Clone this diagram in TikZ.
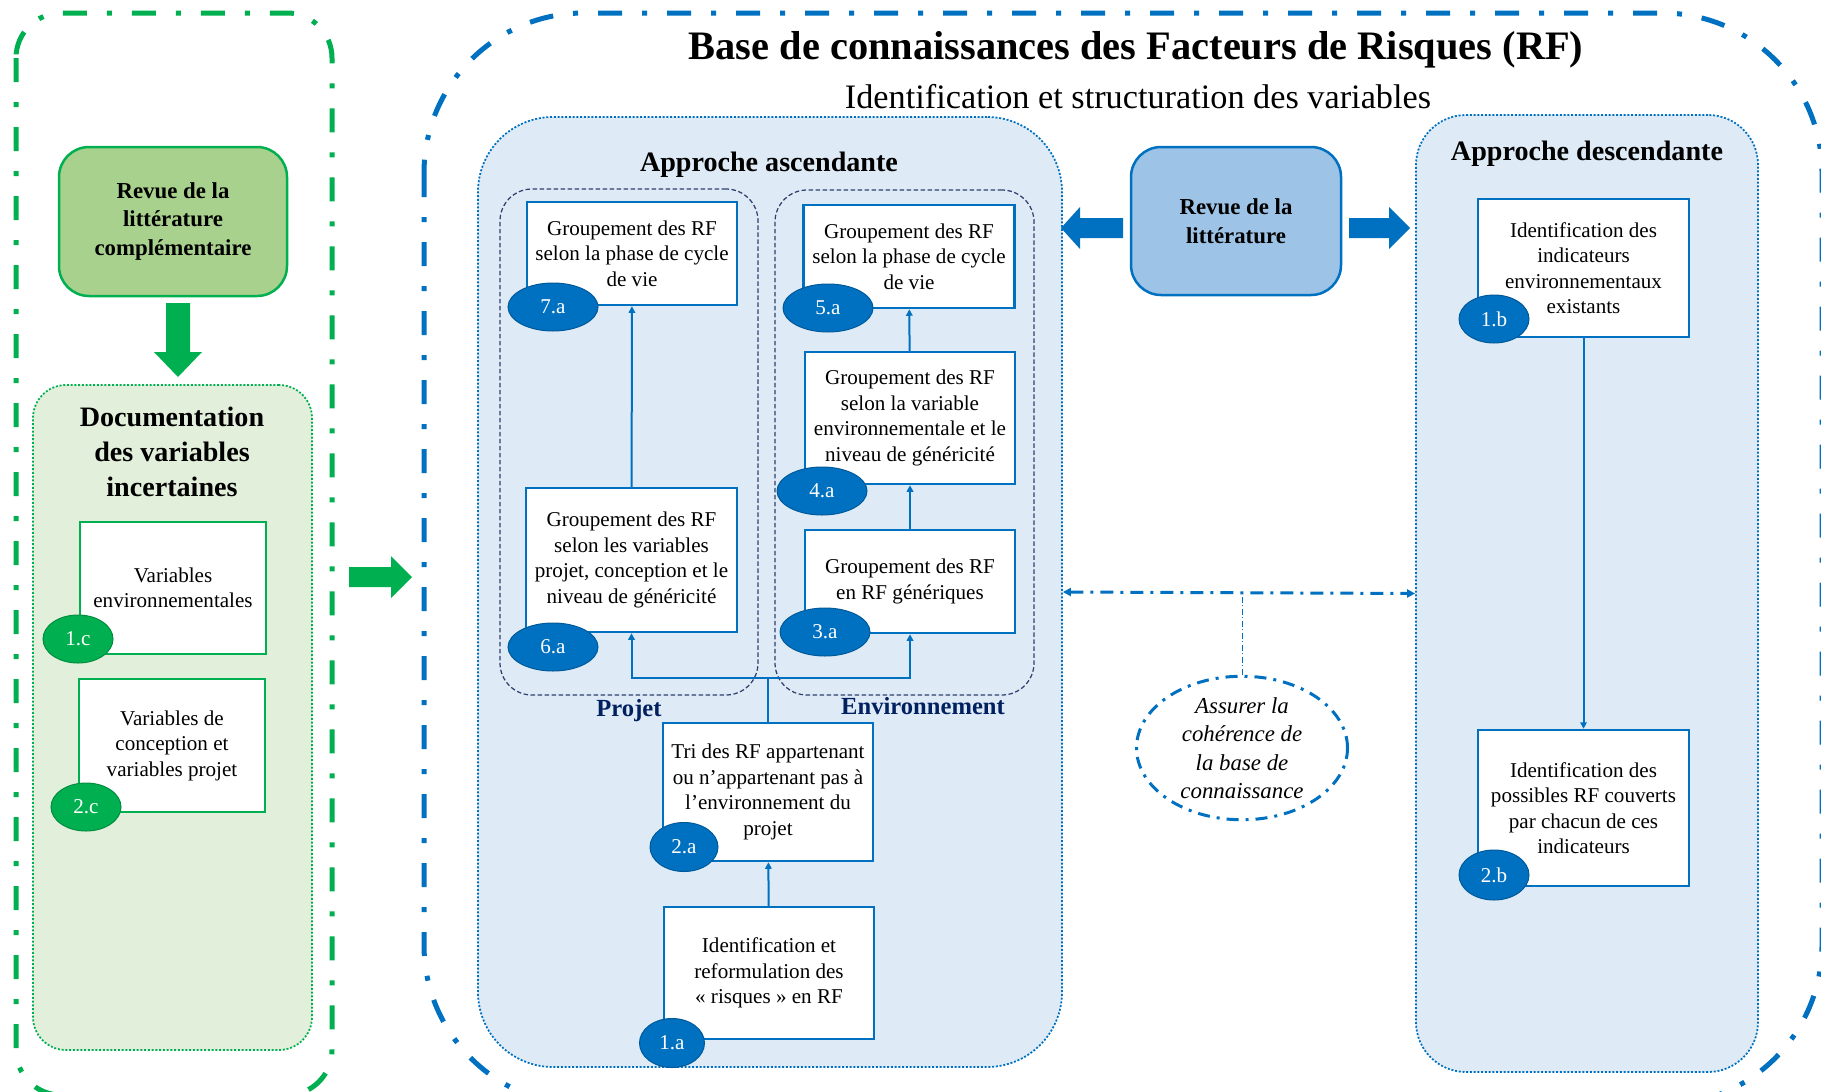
\documentclass[tikz,border=0pt]{standalone}
\usepackage{fontspec}
\setmainfont{Liberation Serif}
\usepackage{tikz}
\usetikzlibrary{shapes.geometric,arrows.meta,calc}
\definecolor{GrnLine}{RGB}{0,176,80}
\definecolor{GrnFill}{RGB}{169,209,142}
\definecolor{GrnPale}{RGB}{226,239,218}
\definecolor{BluLine}{RGB}{0,112,192}
\definecolor{BluFill}{RGB}{157,195,230}
\definecolor{BluPale}{RGB}{222,235,247}
\definecolor{NavyTxt}{RGB}{0,32,96}
\definecolor{NavyDsh}{RGB}{47,64,110}
\tikzset{
  sz/.style 2 args={minimum width=#1*0.2mm,minimum height=#2*0.2mm},
  big_dd/.style={line width=1mm,dash pattern=on 4.8mm off 4mm on 1mm off 4mm},
  nd_grp/.style={rectangle,draw=BluLine,fill=BluPale,line width=0.35mm,dash pattern=on 0.4mm off 0.35mm,inner sep=0pt},
  nd_sub/.style={rectangle,draw=NavyDsh,line width=0.25mm,dash pattern=on 0.9mm off 0.5mm,rounded corners=6.4mm,inner sep=0pt},
  nd_box/.style={rectangle,draw=BluLine,fill=white,line width=0.5mm,align=center,inner sep=2pt,font=\fontsize{12}{14.5}\selectfont},
  nd_gbox/.style={nd_box,draw=GrnLine},
  nd_num/.style={ellipse,fill=BluLine,draw=BluLine!80!black,line width=0.2mm,text=white,inner sep=0pt,font=\fontsize{12}{14.5}\selectfont},
  nd_gnum/.style={nd_num,fill=GrnLine,draw=GrnLine!80!black},
  nd_src/.style={rectangle,rounded corners=6mm,line width=0.5mm,align=center,font=\fontsize{13}{16.5}\selectfont\bfseries},
  hdr/.style={font=\fontsize{16}{19.8}\selectfont\bfseries,align=center},
  lbl/.style={font=\fontsize{14}{17}\selectfont\bfseries,text=NavyTxt},
  arr/.style={-{Triangle[length=1.3mm,width=1.3mm]},draw=BluLine,line width=0.4mm},
  dd_arr/.style={{Triangle[length=1.6mm,width=1.6mm]}-{Triangle[length=1.6mm,width=1.6mm]},draw=BluLine,line width=0.6mm,dash pattern=on 2.6mm off 1.4mm on 0.6mm off 1.4mm},
}
\newcommand{\blockarrow}[5]{%
  \fill[#5](#1,#4-10)--(#2,#4-10)--(#2,#4-21)--(#3,#4)--(#2,#4+21)--(#2,#4+10)--(#1,#4+10)--cycle;}

\begin{document}
\begin{tikzpicture}[x=0.2mm,y=-0.2mm]
\useasboundingbox (0,0) rectangle (1821,1091);
\clip (0,0) rectangle (1821,1091);
% frames
\draw[big_dd,GrnLine,rounded corners=9mm](16,13) rectangle (332,1095);
\draw[big_dd,BluLine,rounded corners=32mm](424,13) rectangle (1822,1105);
% left column
\node[nd_src,draw=GrnLine,fill=GrnFill,sz={228}{149}] at (173,221.5)(RC){Revue de la\\littérature\\complémentaire};
\fill[GrnLine](166,303)--(190,303)--(190,352)--(202,352)--(178,377)--(154,352)--(166,352)--cycle;
\node[nd_grp,draw=GrnLine,fill=GrnPale,rounded corners=6.6mm,sz={279}{665}] at (172.5,717.5)(DV){};
\node[hdr] at (172,452)(DVt){Documentation\\des variables\\incertaines};
\node[nd_gbox,sz={186}{132}] at (173,588)(V1){Variables\\environnementales};
\node[nd_gbox,sz={186}{133}] at (172,745.5)(V2){Variables de\\conception et\\variables projet};
\node[nd_gnum,sz={70}{48}] at (78,639)(N1c){1.c};
\node[nd_gnum,sz={70}{48}] at (86,807)(N2c){2.c};
\blockarrow{349}{391}{412}{577}{GrnLine}
% titles
\node[font=\fontsize{23}{27}\selectfont\bfseries] at (1136,50)(T){Base de connaissances des Facteurs de Risques (RF)};
\node[font=\fontsize{19.5}{23}\selectfont] at (1138,97)(ST){Identification et structuration des variables};
% groups
\node[nd_grp,rounded corners=15mm,sz={584}{950}] at (770,592)(ASC){};
\node[nd_grp,rounded corners=10mm,sz={342}{957}] at (1587,593.5)(DSC){};
\node[hdr] at (769,165)(ASCt){Approche ascendante};
\node[hdr] at (1587,154)(DSCt){Approche descendante};
\node[nd_sub,sz={258}{506}] at (629,442)(PRJ){};
\node[nd_sub,sz={259}{505}] at (904.5,442.5)(ENV){};
\node[lbl] at (629,711)(PRJt){Projet};
\node[lbl] at (923,706)(ENVt){Environnement};
% ascendante
\node[nd_box,sz={210}{132}] at (769,973)(B1a){Identification et\\reformulation des\\« risques » en RF};
\node[nd_box,sz={210}{138}] at (768,792)(B2a){Tri des RF appartenant\\ou n’appartenant pas à\\l’environnement du\\projet};
\node[nd_box,sz={210}{103}] at (910,581.5)(B3a){Groupement des RF\\en RF génériques};
\node[nd_box,sz={210}{132}] at (910,418)(B4a){Groupement des RF\\selon la variable\\environnementale et le\\niveau de généricité};
\node[nd_box,sz={211}{103}] at (909,256.5)(B5a){Groupement des RF\\selon la phase de cycle\\de vie};
\node[nd_box,sz={211}{144}] at (631.5,560)(B6a){Groupement des RF\\selon les variables\\projet, conception et le\\niveau de généricité};
\node[nd_box,sz={210}{103}] at (632,253.5)(B7a){Groupement des RF\\selon la phase de cycle\\de vie};
\node[nd_num,sz={65}{49}] at (672,1043)(N1a){1.a};
\node[nd_num,sz={68}{49}] at (684,847)(N2a){2.a};
\node[nd_num,sz={90}{48}] at (825,632)(N3a){3.a};
\node[nd_num,sz={90}{48}] at (822,491)(N4a){4.a};
\node[nd_num,sz={90}{48}] at (828,308)(N5a){5.a};
\node[nd_num,sz={90}{48}] at (553,647)(N6a){6.a};
\node[nd_num,sz={90}{48}] at (553,307)(N7a){7.a};
% descendante
\node[nd_box,sz={211}{138}] at (1583.5,268)(B1b){Identification des\\indicateurs\\environnementaux\\existants};
\node[nd_box,sz={211}{156}] at (1583.5,808)(B2b){Identification des\\possibles RF couverts\\par chacun de ces\\indicateurs};
\node[nd_num,sz={70}{48}] at (1494,319)(N1b){1.b};
\node[nd_num,sz={70}{50}] at (1494,875)(N2b){2.b};
% revue
\node[nd_src,draw=BluLine,fill=BluFill,sz={210}{148}] at (1236,221)(RL){Revue de la\\littérature};
\blockarrow{1123}{1080}{1061}{228}{BluLine}
\blockarrow{1349}{1389}{1410}{228}{BluLine}
\node[ellipse,draw=BluLine,line width=0.6mm,dash pattern=on 2.4mm off 1.4mm on 0.6mm off 1.4mm,sz={211}{141},align=center,inner sep=0pt,font=\fontsize{13}{16.2}\selectfont\itshape] at (1242,748)(COH){Assurer la\\cohérence de\\la base de\\connaissance};
% arrows
\coordinate (J) at (768,678);
\draw[arr](B1a)--(B2a);
\draw[BluLine,line width=0.4mm](B2a.north)--(J);
\draw[arr](J)-|(B6a.south);
\draw[arr](J)-|(B3a.south);
\draw[arr](B6a)--(B7a);
\draw[arr](B3a)--(B4a);
\draw[arr](B4a)--(B5a);
\draw[arr](B1b)--(B2b);
\draw[dd_arr](ASC.east)--(DSC.west);
\draw[BluLine,line width=0.2mm,dash pattern=on 1.2mm off 0.5mm on 0.2mm off 0.5mm](COH.north)--(COH.north|-ASC.east);
\end{tikzpicture}
\end{document}
